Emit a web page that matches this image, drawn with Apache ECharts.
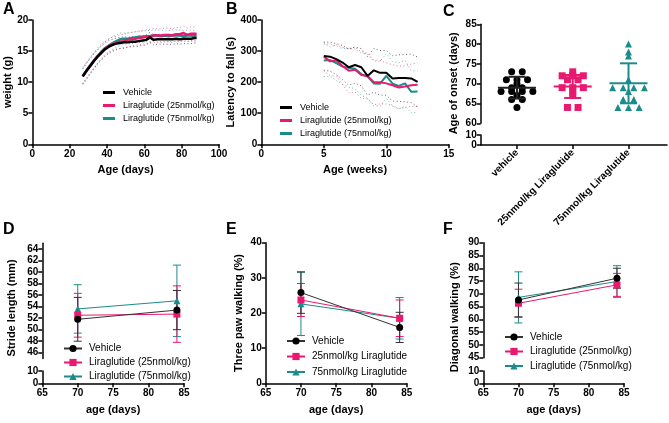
<!DOCTYPE html>
<html><head><meta charset="utf-8">
<script src="https://cdn.jsdelivr.net/npm/echarts@6/dist/echarts.min.js"></script>
<style>html,body{margin:0;padding:0;background:#fff}#c{width:669px;height:423px}</style>
</head><body><div id="c"></div>
<script>
// ---------------- DATA ----------------
const groupNames = ['Vehicle', 'Liraglutide (25nmol/kg)', 'Liraglutide (75nmol/kg)'];
const groupNamesE = ['Vehicle', '25nmol/kg Liraglutide', '75nmol/kg Liraglutide'];
const onsetCategories = ['vehicle', '25nmol/kg Liraglutide', '75nmol/kg Liraglutide'];

// A: body weight (g) vs age (days)
const weightAge = [27,29,31,33,35,37,39,41,43,45,47,49,51,53,55,57,59,61,63,65,67,69,71,73,75,77,79,81,83,85,87,88];
const weightVehicle = [10.9,11.8,12.6,13.4,14.1,14.7,15.3,15.7,16.0,16.2,16.3,16.4,16.4,16.5,16.5,16.6,16.7,16.8,17.2,16.8,16.9,16.9,16.9,16.9,16.9,17.0,16.9,17.0,17.0,17.0,17.1,17.1];
const weightLira25  = [11.0,11.8,12.6,13.4,14.2,14.8,15.4,15.8,16.1,16.3,16.5,16.6,16.8,16.9,17.0,17.1,17.2,17.3,17.4,17.5,17.5,17.5,17.6,17.6,17.5,17.7,17.7,17.9,17.6,17.8,17.8,17.8];
const weightLira75  = [11.0,11.9,12.7,13.5,14.2,14.9,15.5,15.9,16.3,16.6,16.9,17.0,17.0,17.1,17.2,17.3,17.3,17.4,17.4,17.5,17.5,17.4,17.5,17.4,17.5,17.5,17.5,17.4,17.5,17.5,17.4,17.4];
const weightVehicleSD = [1.2,1.2,1.2,1.2,1.1,1.1,1.0,1.0,0.9,0.9,0.9,0.9,0.8,0.8,0.8,0.8,0.8,0.8,0.8,0.8,0.8,0.8,0.8,0.8,0.8,0.8,0.8,0.8,0.8,0.8,0.8,0.8];
const weightLira25SD  = [1.4,1.4,1.4,1.3,1.3,1.3,1.2,1.2,1.2,1.1,1.1,1.1,1.1,1.1,1.1,1.1,1.1,1.1,1.1,1.1,1.1,1.1,1.1,1.1,1.1,1.1,1.1,1.1,1.1,1.1,1.1,1.1];
const weightLira75SD  = [1.2,1.2,1.2,1.2,1.1,1.1,1.0,1.0,1.0,1.0,1.0,0.9,0.9,0.9,0.9,0.9,0.9,0.9,0.9,0.9,0.9,0.9,0.9,0.9,0.9,0.9,0.9,0.9,0.9,0.9,0.9,0.9];

// B: latency to fall (s) vs age (weeks)
const rotarodWeeks = [5,5.5,6,6.5,7,7.5,8,8.5,9,9.5,10,10.5,11,11.5,12,12.5];
const rotarodVehicle = [284,282,274,263,248,255,248,220,238,230,230,212,213,213,212,201];
const rotarodLira25  = [282,267,270,252,237,240,223,220,200,200,196,190,183,186,190,192];
const rotarodLira75  = [270,271,261,250,246,243,226,218,196,195,220,195,188,196,169,170];
const rotarodVehicleSD = [45,47,50,55,58,58,60,62,70,72,72,73,75,76,78,80];
const rotarodLira25SD  = [45,46,50,60,72,72,75,74,72,70,66,66,68,67,68,70];
const rotarodLira75SD  = [52,52,55,58,62,64,68,70,72,72,72,72,74,74,68,66];

// C: age of onset (days), individual animals + mean / SD
const onsetVehicle = [73,73,71,71,71,70,69,69,68,68,68,68,67,66,66,64];
const onsetLira25  = [73,72,72,72,71,71,69,69,69,68,67,64,64];
const onsetLira75  = [80,78,77,71,69,69,69,69,68,66,66,64,64,64];
const onsetMean = [69.0, 69.3, 70.1];
const onsetSD   = [2.75, 2.9, 5.05];

// D/E/F: gait at 70 and 84 days
const gaitAges = [70, 84];
const strideVehicle = [51.8, 53.4], strideVehicleSD = [3.8, 3.4];
const strideLira25  = [52.5, 52.7], strideLira25SD  = [3.8, 4.9];
const strideLira75  = [53.6, 55.0], strideLira75SD  = [4.2, 6.2];
const threePawVehicle = [25.8, 15.9], threePawVehicleSD = [5.9, 4.3];
const threePawLira25  = [23.7, 18.5], threePawLira25SD  = [4.7, 5.2];
const threePawLira75  = [22.6, 18.5], threePawLira75SD  = [9.0, 5.9];
const diagVehicle = [67.6, 76.1], diagVehicleSD = [6.6, 3.9];
const diagLira25  = [66.3, 73.5], diagLira25SD  = [5.5, 4.5];
const diagLira75  = [68.6, 74.8], diagLira75SD  = [10.0, 6.2];

// ---------------- STYLE ----------------
const FONT = "'Liberation Sans', Arial, Helvetica, sans-serif";
const COLORS = ['#000000', '#E8196E', '#1B8B8B'];
const BAR_COLORS = ['#333333', '#E8196E', '#1B8B8B'];
const SYMBOLS = ['circle', 'rect', 'triangle'];

function merge(a, b) {
  const out = Object.assign({}, a);
  for (const k in b) {
    const bv = b[k], av = a[k];
    if (bv && typeof bv === 'object' && !Array.isArray(bv) && av && typeof av === 'object' && !Array.isArray(av)) out[k] = merge(av, bv);
    else out[k] = bv;
  }
  return out;
}
const AXIS_BASE = {
  type: 'value',
  axisLine: {show: true, onZero: false, lineStyle: {color: '#000', width: 1.5}},
  axisTick: {show: true, length: 4, lineStyle: {color: '#000', width: 1.5}},
  axisLabel: {color: '#000', fontSize: 10, fontWeight: 'bold', fontFamily: FONT, margin: 5},
  splitLine: {show: false},
  nameLocation: 'middle',
  nameTextStyle: {color: '#000', fontSize: 11, fontWeight: 'bold', fontFamily: FONT}
};
const ax = o => merge(AXIS_BASE, o);

const grids = [
  {left: 32.3, top: 20, width: 186.7, height: 124.3},   // 0 A
  {left: 261.3, top: 20, width: 187.5, height: 124.3},  // 1 B
  {left: 480.7, top: 24.3, width: 186.3, height: 99},   // 2 C upper
  {left: 480.7, top: 135, width: 186.3, height: 10},    // 3 C lower
  {left: 42.3, top: 243.2, width: 141.7, height: 115.3},// 4 D upper
  {left: 42.3, top: 371, width: 141.7, height: 12.3},   // 5 D lower
  {left: 265.7, top: 242.7, width: 141, height: 140.6}, // 6 E
  {left: 483.3, top: 242.7, width: 140.7, height: 115}, // 7 F upper
  {left: 483.3, top: 371, width: 140.7, height: 12.3}   // 8 F lower
].map(g => Object.assign({containLabel: false, outerBoundsMode: 'none'}, g));

const C_MIN = 0.35, C_MAX = 3.69;
const evenTicks = [46,48,50,52,54,56,58,60,62,64];

const xAxes = [
  ax({gridIndex: 0, min: 0, max: 100, interval: 20, name: 'Age (days)', nameGap: 20}),
  ax({gridIndex: 1, min: 0, max: 15, interval: 5, name: 'Age (weeks)', nameGap: 20}),
  ax({gridIndex: 2, min: C_MIN, max: C_MAX, show: false}),
  ax({gridIndex: 3, min: C_MIN, max: C_MAX,
      axisTick: {customValues: [1, 2, 3]},
      axisLabel: {customValues: [1, 2, 3], rotate: 45, margin: 6, formatter: v => onsetCategories[Math.round(v) - 1]}}),
  ax({gridIndex: 4, min: 65, max: 85, interval: 5, show: false}),
  ax({gridIndex: 5, min: 65, max: 85, interval: 5, name: 'age (days)', nameGap: 21}),
  ax({gridIndex: 6, min: 65, max: 85, interval: 5, name: 'age (days)', nameGap: 21}),
  ax({gridIndex: 7, min: 65, max: 85, interval: 5, show: false}),
  ax({gridIndex: 8, min: 65, max: 85, interval: 5, name: 'age (days)', nameGap: 21})
];
const yAxes = [
  ax({gridIndex: 0, min: 0, max: 20, interval: 5, name: 'weight (g)', nameGap: 19, axisLabel: {margin: 4}}),
  ax({gridIndex: 1, min: 0, max: 400, interval: 100, name: 'Latency to fall (s)', nameGap: 23, axisLabel: {margin: 4}}),
  ax({gridIndex: 2, min: 60, max: 85, interval: 5, name: 'Age of onset (days)', nameGap: 21, axisLabel: {margin: 4},
      nameTextStyle: {padding: [0, 19, 0, 0]}}),
  ax({gridIndex: 3, min: 0, max: 10, interval: 10, axisLabel: {margin: 4}}),
  ax({gridIndex: 4, min: 45, max: 65, name: 'Stride length (mm)', nameGap: 25, axisLabel: {margin: 4, customValues: evenTicks},
      axisTick: {customValues: evenTicks}, nameTextStyle: {padding: [0, 14, 0, 0]}}),
  ax({gridIndex: 5, min: 0, max: 10, interval: 10, axisLabel: {margin: 4}}),
  ax({gridIndex: 6, min: 0, max: 40, interval: 10, name: 'Three paw walking (%)', nameGap: 21, axisLabel: {margin: 4}}),
  ax({gridIndex: 7, min: 45, max: 90, interval: 5, name: 'Diagonal walking (%)', nameGap: 23, axisLabel: {margin: 4},
      nameTextStyle: {padding: [0, 34, 0, 0]}}),
  ax({gridIndex: 8, min: 0, max: 10, interval: 10, axisLabel: {margin: 4}})
];

const series = [];

// ---- A and B: mean lines with dotted SD lines ----
function addTimeCourse(prefix, axisIdx, xs, means, sds, width) {
  [2, 1, 0].forEach(i => {
    const m = means[i], s = sds[i], c = COLORS[i];
    [1, -1].forEach(sign => series.push({
      type: 'line', name: prefix + 'sd', xAxisIndex: axisIdx, yAxisIndex: axisIdx, silent: true, symbol: 'none', z: 2,
      data: xs.map((x, k) => [x, +(m[k] + sign * s[k]).toFixed(2)]),
      lineStyle: {color: c, width: 1, type: [1, 2.5], opacity: 0.6}
    }));
  });
  [2, 1, 0].forEach(i => series.push({
    type: 'line', name: prefix + groupNames[i], xAxisIndex: axisIdx, yAxisIndex: axisIdx, symbol: 'none', z: 3,
    data: xs.map((x, k) => [x, means[i][k]]),
    lineStyle: {color: COLORS[i], width: width}, itemStyle: {color: COLORS[i]}
  }));
}
addTimeCourse('A:', 0, weightAge, [weightVehicle, weightLira25, weightLira75], [weightVehicleSD, weightLira25SD, weightLira75SD], 2.5);
addTimeCourse('B:', 1, rotarodWeeks, [rotarodVehicle, rotarodLira25, rotarodLira75], [rotarodVehicleSD, rotarodLira25SD, rotarodLira75SD], 2);

// ---- error-bar renderer ----
function barRenderer(capHalf, meanHalf, lw) {
  return function (params, api) {
    const x = api.value(0), m = api.value(1), s = api.value(2);
    const top = api.coord([x, m + s]), bot = api.coord([x, m - s]), mid = api.coord([x, m]);
    const style = {stroke: api.visual('color'), lineWidth: lw, fill: null};
    const ch = [
      {type: 'line', shape: {x1: top[0], y1: top[1], x2: bot[0], y2: bot[1]}, style},
      {type: 'line', shape: {x1: top[0] - capHalf, y1: top[1], x2: top[0] + capHalf, y2: top[1]}, style},
      {type: 'line', shape: {x1: bot[0] - capHalf, y1: bot[1], x2: bot[0] + capHalf, y2: bot[1]}, style}
    ];
    if (meanHalf) ch.push({type: 'line', shape: {x1: mid[0] - meanHalf, y1: mid[1], x2: mid[0] + meanHalf, y2: mid[1]}, style});
    return {type: 'group', children: ch};
  };
}

// ---- C: dot plot ----
const SWARM_STEP = 0.19;
function swarm(values, center) {
  const counts = {}, seen = {};
  values.forEach(v => counts[v] = (counts[v] || 0) + 1);
  return values.map(v => {
    seen[v] = seen[v] === undefined ? 0 : seen[v] + 1;
    return [center + (seen[v] - (counts[v] - 1) / 2) * SWARM_STEP, v];
  });
}
[onsetVehicle, onsetLira25, onsetLira75].forEach((vals, i) => {
  series.push({
    type: 'scatter', name: 'C:' + i, xAxisIndex: 2, yAxisIndex: 2, symbol: SYMBOLS[i], symbolSize: 7,
    data: swarm(vals, i + 1), itemStyle: {color: COLORS[i], opacity: 1}, z: 3
  });
  series.push({
    type: 'custom', name: 'C:bar' + i, xAxisIndex: 2, yAxisIndex: 2, z: 4, silent: true,
    itemStyle: {color: i === 0 ? '#222' : COLORS[i]},
    renderItem: barRenderer(8.5, 19, 2), encode: {x: 0, y: 1},
    data: [[i + 1, onsetMean[i], onsetSD[i]]]
  });
});

// ---- D/E/F: means with SD error bars ----
function addGait(prefix, names, axisIdx, means, sds) {
  [2, 1, 0].forEach(i => series.push({
    type: 'custom', name: prefix + 'err' + i, xAxisIndex: axisIdx, yAxisIndex: axisIdx, silent: true, z: 2,
    itemStyle: {color: BAR_COLORS[i]}, renderItem: barRenderer(4, 0, 1), encode: {x: 0, y: 1},
    data: gaitAges.map((a, k) => [a, means[i][k], sds[i][k]])
  }));
  [2, 1, 0].forEach(i => series.push({
    type: 'line', name: prefix + names[i], xAxisIndex: axisIdx, yAxisIndex: axisIdx, z: 3,
    symbol: SYMBOLS[i], symbolSize: 7, showSymbol: true,
    data: gaitAges.map((a, k) => [a, means[i][k]]),
    lineStyle: {color: BAR_COLORS[i], width: 1}, itemStyle: {color: COLORS[i]}
  }));
}
addGait('D:', groupNames, 4, [strideVehicle, strideLira25, strideLira75], [strideVehicleSD, strideLira25SD, strideLira75SD]);
addGait('E:', groupNamesE, 6, [threePawVehicle, threePawLira25, threePawLira75], [threePawVehicleSD, threePawLira25SD, threePawLira75SD]);
addGait('F:', groupNames, 7, [diagVehicle, diagLira25, diagLira75], [diagVehicleSD, diagLira25SD, diagLira75SD]);

// ---- legends ----
function legend(prefix, names, left, top, itemWidth, itemHeight, gap, fontSize, pad, icon) {
  return {
    left, top, orient: 'vertical', selectedMode: false, padding: 0,
    itemWidth, itemHeight, itemGap: gap,
    data: names.map(n => icon ? {name: prefix + n, icon} : prefix + n),
    formatter: n => n.slice(2),
    textStyle: {fontSize, fontFamily: FONT, color: '#000', padding: [0, 0, 0, pad]}
  };
}
const legends = [
  legend('A:', groupNames, 103, 88, 12, 3, 4, 9, 3, 'rect'),
  legend('B:', groupNames, 280, 103, 12, 3, 4, 9, 3, 'rect'),
  legend('D:', groupNames, 63, 343.5, 18, 9, 4, 10, 2),
  legend('E:', groupNamesE, 286, 336, 18, 9, 5.5, 10, 2),
  legend('F:', groupNames, 504, 332, 18, 9, 4.5, 10, 2)
];

const panelLetters = [['A', 3, 2], ['B', 226, 2], ['C', 443, 4], ['D', 3, 222], ['E', 226, 222], ['F', 443, 222]];
const titles = panelLetters.map(([t, l, tp]) => ({
  text: t, left: l, top: tp, padding: 0,
  textStyle: {fontSize: 16, fontWeight: 'bold', fontFamily: FONT, color: '#000'}
}));

const chart = echarts.init(document.getElementById('c'), null, {renderer: 'canvas'});
chart.setOption({
  animation: false,
  backgroundColor: '#fff',
  title: titles,
  legend: legends,
  grid: grids,
  xAxis: xAxes,
  yAxis: yAxes,
  series
});
</script></body></html>
